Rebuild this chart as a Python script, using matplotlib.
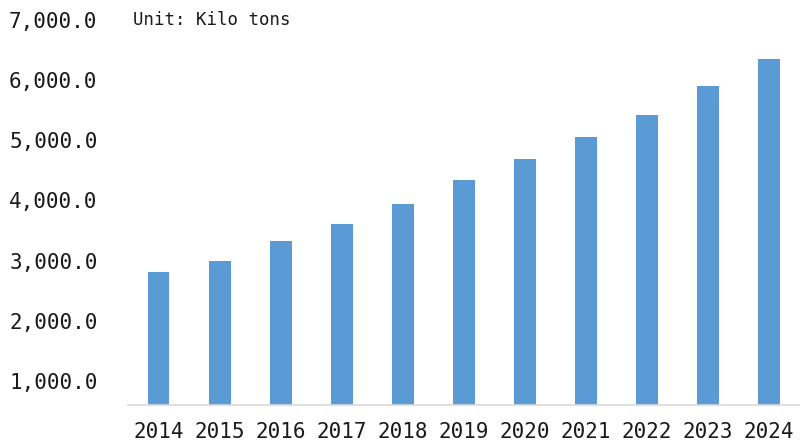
import matplotlib
matplotlib.use("Agg")
import matplotlib.pyplot as plt
from matplotlib.ticker import FuncFormatter

years = ["2014", "2015", "2016", "2017", "2018", "2019", "2020", "2021", "2022", "2023", "2024"]
volume = [2810, 2995, 3320, 3605, 3935, 4335, 4685, 5050, 5420, 5900, 6350]
yticks = [1000, 2000, 3000, 4000, 5000, 6000, 7000]

barColor = "#5B9BD5"
textColor = "#1a1a1a"
monoFont = "DejaVu Sans Mono"

fig = plt.figure(figsize=(8.05, 4.43), dpi=100)
ax = fig.add_axes([0.159, 0.0858, 0.834, 0.8692])

x = range(len(years))
ax.bar(x, volume, width=0.36, color=barColor, zorder=2)

ax.set_xlim(-0.5, len(years) - 0.5)
ax.set_ylim(600, 7000)
ax.set_yticks(yticks)
ax.yaxis.set_major_formatter(FuncFormatter(lambda v, p: f"{v:,.1f}"))
ax.set_xticks(list(x))
ax.set_xticklabels(years)

for s in ["top", "right", "left"]:
    ax.spines[s].set_visible(False)
ax.spines["bottom"].set_color("#d9d9d9")
ax.spines["bottom"].set_linewidth(1.2)

ax.tick_params(axis="both", length=0, colors=textColor)
ax.tick_params(axis="y", pad=22)
ax.tick_params(axis="x", pad=12)
for lbl in ax.get_yticklabels():
    lbl.set_fontfamily(monoFont)
    lbl.set_fontsize(15)
for lbl in ax.get_xticklabels():
    lbl.set_fontfamily(monoFont)
    lbl.set_fontsize(15)

fig.text(133 / 805, 1 - 20 / 443, "Unit: Kilo tons", fontfamily=monoFont,
         fontsize=12.5, color=textColor, va="center", ha="left")

fig.savefig("out.png", dpi=100)
